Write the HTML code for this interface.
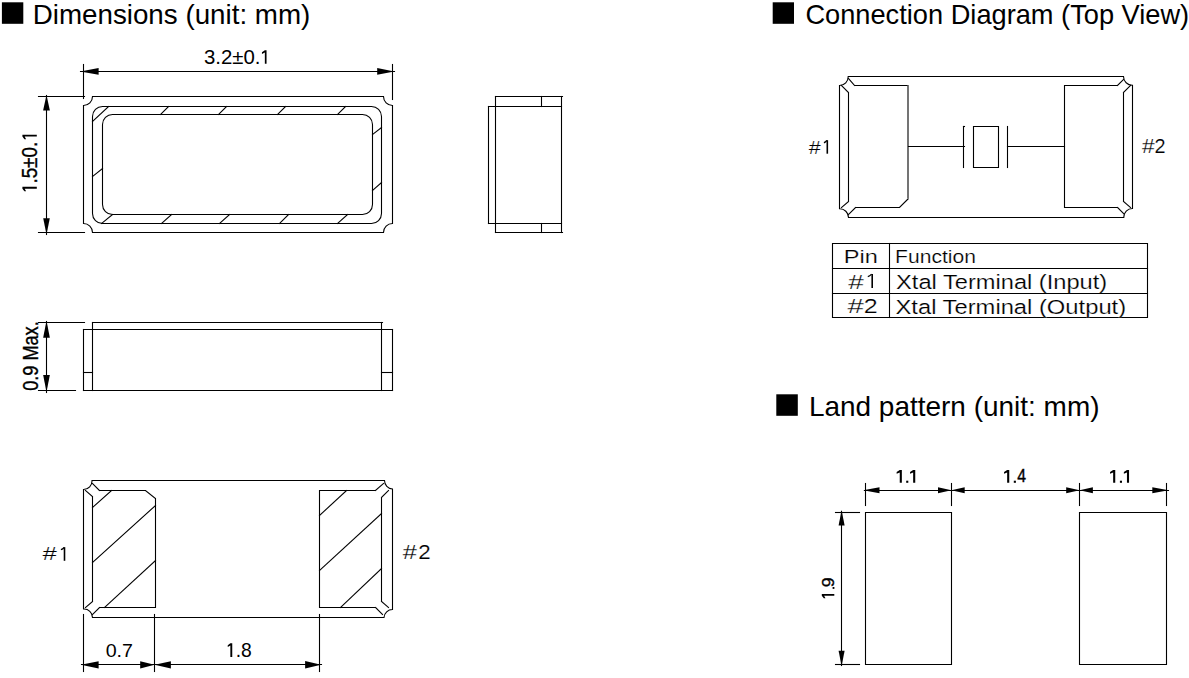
<!DOCTYPE html>
<html><head><meta charset="utf-8"><style>
html,body{margin:0;padding:0;background:#fff;}
body{width:1189px;height:678px;overflow:hidden;}
svg{display:block;}
text{font-family:"Liberation Sans",sans-serif;fill:#000;}
</style></head><body>
<svg width="1189" height="678" viewBox="0 0 1189 678">
<rect x="1.9" y="2.3" width="21.4" height="21.5" fill="#000"/>
<rect x="772.7" y="2.3" width="21.3" height="21.5" fill="#000"/>
<rect x="776.3" y="394.3" width="21.5" height="21.5" fill="#000"/>
<path d="M92.5,96.5 L383.5,96.5 A9,9 0 0 0 392.5,105.5 L392.5,223.5 A9,9 0 0 0 383.5,232.5 L92.5,232.5 A9,9 0 0 0 83.5,223.5 L83.5,105.5 A9,9 0 0 0 92.5,96.5 Z" stroke="#000" stroke-width="1.1" fill="none"/>
<path d="M102.5,106.5 L371.5,106.5 A10,10 0 0 1 381.5,116.5 L381.5,213.5 A10,10 0 0 1 371.5,223.5 L102.5,223.5 A10,10 0 0 1 92.5,213.5 L92.5,116.5 A10,10 0 0 1 102.5,106.5 Z" stroke="#000" stroke-width="1.1" fill="none"/>
<path d="M112.5,114.5 L362.5,114.5 A10,10 0 0 1 372.5,124.5 L372.5,204.5 A10,10 0 0 1 362.5,214.5 L112.5,214.5 A10,10 0 0 1 102.5,204.5 L102.5,124.5 A10,10 0 0 1 112.5,114.5 Z" stroke="#000" stroke-width="1.1" fill="none"/>
<line x1="108.5" y1="106.5" x2="92.5" y2="121.5" stroke="#000" stroke-width="1.1" stroke-linecap="square"/>
<line x1="168.5" y1="106.5" x2="160.5" y2="114.5" stroke="#000" stroke-width="1.1" stroke-linecap="square"/>
<line x1="226.5" y1="106.5" x2="218.5" y2="114.5" stroke="#000" stroke-width="1.1" stroke-linecap="square"/>
<line x1="285.5" y1="106.5" x2="277.5" y2="114.5" stroke="#000" stroke-width="1.1" stroke-linecap="square"/>
<line x1="345.5" y1="106.5" x2="337.5" y2="114.5" stroke="#000" stroke-width="1.1" stroke-linecap="square"/>
<line x1="381.5" y1="127.5" x2="372.5" y2="134.5" stroke="#000" stroke-width="1.1" stroke-linecap="square"/>
<line x1="381.5" y1="182.5" x2="372.5" y2="190.5" stroke="#000" stroke-width="1.1" stroke-linecap="square"/>
<line x1="102.5" y1="168.5" x2="92.5" y2="176.5" stroke="#000" stroke-width="1.1" stroke-linecap="square"/>
<line x1="112.5" y1="214.5" x2="101.5" y2="223.5" stroke="#000" stroke-width="1.1" stroke-linecap="square"/>
<line x1="171.5" y1="214.5" x2="161.5" y2="223.5" stroke="#000" stroke-width="1.1" stroke-linecap="square"/>
<line x1="229.5" y1="214.5" x2="219.5" y2="223.5" stroke="#000" stroke-width="1.1" stroke-linecap="square"/>
<line x1="288.5" y1="214.5" x2="279.5" y2="223.5" stroke="#000" stroke-width="1.1" stroke-linecap="square"/>
<line x1="347.5" y1="214.5" x2="337.5" y2="223.5" stroke="#000" stroke-width="1.1" stroke-linecap="square"/>
<line x1="83.5" y1="64.5" x2="83.5" y2="98.5" stroke="#000" stroke-width="1.1" stroke-linecap="square"/>
<line x1="392.5" y1="64.5" x2="392.5" y2="99.5" stroke="#000" stroke-width="1.1" stroke-linecap="square"/>
<line x1="80.5" y1="71.5" x2="394.5" y2="71.5" stroke="#000" stroke-width="1.1" stroke-linecap="square"/>
<polygon points="80.3,71.4 98.60,68.10 98.60,74.70" fill="#000"/>
<polygon points="394.3,71.4 377.20,74.70 377.20,68.10" fill="#000"/>
<line x1="38.5" y1="96.5" x2="84.5" y2="96.5" stroke="#000" stroke-width="1.1" stroke-linecap="square"/>
<line x1="38.5" y1="232.5" x2="84.5" y2="232.5" stroke="#000" stroke-width="1.1" stroke-linecap="square"/>
<line x1="46.5" y1="95.5" x2="46.5" y2="234.5" stroke="#000" stroke-width="1.1" stroke-linecap="square"/>
<polygon points="46.5,95.1 49.90,110.60 43.10,110.60" fill="#000"/>
<polygon points="46.5,234.6 43.20,218.30 49.80,218.30" fill="#000"/>
<line x1="495.5" y1="96.5" x2="562.5" y2="96.5" stroke="#000" stroke-width="1.1" stroke-linecap="square"/>
<line x1="488.5" y1="106.5" x2="561.5" y2="106.5" stroke="#000" stroke-width="1.1" stroke-linecap="square"/>
<line x1="488.5" y1="223.5" x2="561.5" y2="223.5" stroke="#000" stroke-width="1.1" stroke-linecap="square"/>
<line x1="495.5" y1="232.5" x2="562.5" y2="232.5" stroke="#000" stroke-width="1.1" stroke-linecap="square"/>
<line x1="495.5" y1="96.5" x2="495.5" y2="232.5" stroke="#000" stroke-width="1.1" stroke-linecap="square"/>
<line x1="561.5" y1="96.5" x2="561.5" y2="232.5" stroke="#000" stroke-width="1.1" stroke-linecap="square"/>
<line x1="488.5" y1="106.5" x2="488.5" y2="223.5" stroke="#000" stroke-width="1.1" stroke-linecap="square"/>
<line x1="541.5" y1="96.5" x2="541.5" y2="106.5" stroke="#000" stroke-width="1.1" stroke-linecap="square"/>
<line x1="541.5" y1="223.5" x2="541.5" y2="232.5" stroke="#000" stroke-width="1.1" stroke-linecap="square"/>
<line x1="92.5" y1="322.5" x2="382.5" y2="322.5" stroke="#000" stroke-width="1.1" stroke-linecap="square"/>
<line x1="83.5" y1="329.5" x2="392.5" y2="329.5" stroke="#000" stroke-width="1.1" stroke-linecap="square"/>
<line x1="83.5" y1="390.5" x2="392.5" y2="390.5" stroke="#000" stroke-width="1.1" stroke-linecap="square"/>
<line x1="92.5" y1="322.5" x2="92.5" y2="390.5" stroke="#000" stroke-width="1.1" stroke-linecap="square"/>
<line x1="83.5" y1="329.5" x2="83.5" y2="390.5" stroke="#000" stroke-width="1.1" stroke-linecap="square"/>
<line x1="381.5" y1="322.5" x2="381.5" y2="390.5" stroke="#000" stroke-width="1.1" stroke-linecap="square"/>
<line x1="392.5" y1="329.5" x2="392.5" y2="390.5" stroke="#000" stroke-width="1.1" stroke-linecap="square"/>
<line x1="83.5" y1="372.5" x2="92.5" y2="372.5" stroke="#000" stroke-width="1.1" stroke-linecap="square"/>
<line x1="381.5" y1="372.5" x2="392.5" y2="372.5" stroke="#000" stroke-width="1.1" stroke-linecap="square"/>
<line x1="38.5" y1="322.5" x2="84.5" y2="322.5" stroke="#000" stroke-width="1.1" stroke-linecap="square"/>
<line x1="38.5" y1="390.5" x2="75.5" y2="390.5" stroke="#000" stroke-width="1.1" stroke-linecap="square"/>
<line x1="46.5" y1="321.5" x2="46.5" y2="392.5" stroke="#000" stroke-width="1.1" stroke-linecap="square"/>
<polygon points="46.5,320.8 49.85,337.80 43.15,337.80" fill="#000"/>
<polygon points="46.5,392 43.15,375.00 49.85,375.00" fill="#000"/>
<path d="M92.5,480.5 L384.5,480.5 A8.5,8.5 0 0 0 392.5,489.0 L392.5,609.5 A8.5,8.5 0 0 0 384.0,617.5 L92.5,617.5 A8.5,8.5 0 0 0 83.5,609.0 L83.5,489.5 A8.5,8.5 0 0 0 92.0,480.5 Z" stroke="#000" stroke-width="1.1" fill="none"/>
<path d="M99.5,490.5 L145.5,490.5 L155.5,498.5 L155.5,607.5 L99.5,607.5" stroke="#000" stroke-width="1.1" fill="none"/>
<path d="M92.5,496.5 L92.5,601.5" stroke="#000" stroke-width="1.1" fill="none"/>
<line x1="99.5" y1="490.5" x2="92.5" y2="483.5" stroke="#000" stroke-width="1.1" stroke-linecap="square"/>
<line x1="92.5" y1="496.5" x2="85.5" y2="490.5" stroke="#000" stroke-width="1.1" stroke-linecap="square"/>
<line x1="92.5" y1="601.5" x2="85.5" y2="607.5" stroke="#000" stroke-width="1.1" stroke-linecap="square"/>
<line x1="99.5" y1="607.5" x2="92.5" y2="614.5" stroke="#000" stroke-width="1.1" stroke-linecap="square"/>
<path d="M375.5,490.5 L319.5,490.5 L319.5,607.5 L375.5,607.5" stroke="#000" stroke-width="1.1" fill="none"/>
<path d="M381.5,497.5 L381.5,601.5" stroke="#000" stroke-width="1.1" fill="none"/>
<line x1="375.5" y1="490.5" x2="383.5" y2="483.5" stroke="#000" stroke-width="1.1" stroke-linecap="square"/>
<line x1="381.5" y1="497.5" x2="388.5" y2="490.5" stroke="#000" stroke-width="1.1" stroke-linecap="square"/>
<line x1="381.5" y1="601.5" x2="388.5" y2="607.5" stroke="#000" stroke-width="1.1" stroke-linecap="square"/>
<line x1="375.5" y1="607.5" x2="382.5" y2="614.5" stroke="#000" stroke-width="1.1" stroke-linecap="square"/>
<line x1="111.5" y1="490.5" x2="92.5" y2="507.5" stroke="#000" stroke-width="1.1" stroke-linecap="square"/>
<line x1="155.5" y1="505.5" x2="92.5" y2="562.5" stroke="#000" stroke-width="1.1" stroke-linecap="square"/>
<line x1="155.5" y1="560.5" x2="104.5" y2="607.5" stroke="#000" stroke-width="1.1" stroke-linecap="square"/>
<line x1="346.5" y1="490.5" x2="319.5" y2="515.5" stroke="#000" stroke-width="1.1" stroke-linecap="square"/>
<line x1="381.5" y1="513.5" x2="319.5" y2="570.5" stroke="#000" stroke-width="1.1" stroke-linecap="square"/>
<line x1="381.5" y1="568.5" x2="340.5" y2="607.5" stroke="#000" stroke-width="1.1" stroke-linecap="square"/>
<line x1="83.5" y1="614.5" x2="83.5" y2="671.5" stroke="#000" stroke-width="1.1" stroke-linecap="square"/>
<line x1="154.5" y1="614.5" x2="154.5" y2="671.5" stroke="#000" stroke-width="1.1" stroke-linecap="square"/>
<line x1="319.5" y1="614.5" x2="319.5" y2="671.5" stroke="#000" stroke-width="1.1" stroke-linecap="square"/>
<line x1="81.5" y1="664.5" x2="321.5" y2="664.5" stroke="#000" stroke-width="1.1" stroke-linecap="square"/>
<polygon points="80.9,664.8 98.60,661.20 98.60,668.40" fill="#000"/>
<polygon points="154.6,664.8 140.20,668.40 140.20,661.20" fill="#000"/>
<polygon points="154.6,664.8 170.90,661.20 170.90,668.40" fill="#000"/>
<polygon points="321.1,664.8 305.10,668.50 305.10,661.10" fill="#000"/>
<path d="M848.5,76.5 L1123.5,76.5 A8.7,8.7 0 0 0 1132.5,85.2 L1132.5,208.5 A8.7,8.7 0 0 0 1123.8,217.5 L848.5,217.5 A8.7,8.7 0 0 0 839.5,208.8 L839.5,85.5 A8.7,8.7 0 0 0 848.2,76.5 Z" stroke="#000" stroke-width="1.1" fill="none"/>
<path d="M854.5,85.5 L908.5,85.5" stroke="#000" stroke-width="1.1" fill="none"/>
<path d="M908.5,198.5 L899.5,207.5 L855.5,207.5" stroke="#000" stroke-width="1.1" fill="none"/>
<line x1="908" y1="85.5" x2="908" y2="198.5" stroke="#747474" stroke-width="2"/>
<path d="M848.5,92.5 L848.5,201.5" stroke="#000" stroke-width="1.1" fill="none"/>
<line x1="854.5" y1="85.5" x2="848.5" y2="78.5" stroke="#000" stroke-width="1.1" stroke-linecap="square"/>
<line x1="848.5" y1="92.5" x2="841.5" y2="85.5" stroke="#000" stroke-width="1.1" stroke-linecap="square"/>
<line x1="848.5" y1="201.5" x2="841.5" y2="207.5" stroke="#000" stroke-width="1.1" stroke-linecap="square"/>
<line x1="855.5" y1="207.5" x2="848.5" y2="214.5" stroke="#000" stroke-width="1.1" stroke-linecap="square"/>
<path d="M1117.5,85.5 L1064.5,85.5 L1064.5,207.5 L1117.5,207.5" stroke="#000" stroke-width="1.1" fill="none"/>
<path d="M1123.5,92.5 L1123.5,201.5" stroke="#000" stroke-width="1.1" fill="none"/>
<line x1="1117.5" y1="85.5" x2="1123.5" y2="79.5" stroke="#000" stroke-width="1.1" stroke-linecap="square"/>
<line x1="1123.5" y1="92.5" x2="1130.5" y2="85.5" stroke="#000" stroke-width="1.1" stroke-linecap="square"/>
<line x1="1123.5" y1="201.5" x2="1130.5" y2="207.5" stroke="#000" stroke-width="1.1" stroke-linecap="square"/>
<line x1="1117.5" y1="207.5" x2="1123.5" y2="213.5" stroke="#000" stroke-width="1.1" stroke-linecap="square"/>
<line x1="908.5" y1="146.5" x2="964.5" y2="146.5" stroke="#000" stroke-width="1.1" stroke-linecap="square"/>
<line x1="963.5" y1="126.5" x2="963.5" y2="167.5" stroke="#000" stroke-width="1.1" stroke-linecap="square"/>
<path d="M973.5,126.5 L998.5,126.5 L998.5,167.5 L973.5,167.5 Z" stroke="#000" stroke-width="1.1" fill="none"/>
<line x1="1007.5" y1="126.5" x2="1007.5" y2="167.5" stroke="#000" stroke-width="1.1" stroke-linecap="square"/>
<line x1="963.5" y1="126.5" x2="964.5" y2="126.5" stroke="#000" stroke-width="1.1" stroke-linecap="square"/>
<line x1="1007.5" y1="146.5" x2="1064.5" y2="146.5" stroke="#000" stroke-width="1.1" stroke-linecap="square"/>
<path d="M832.5,243.5 L1147.5,243.5 L1147.5,317.5 L832.5,317.5 Z" stroke="#000" stroke-width="1.1" fill="none"/>
<line x1="832.5" y1="268.5" x2="1147.5" y2="268.5" stroke="#000" stroke-width="1.1" stroke-linecap="square"/>
<line x1="832.5" y1="293.5" x2="1147.5" y2="293.5" stroke="#000" stroke-width="1.1" stroke-linecap="square"/>
<line x1="889.5" y1="243.5" x2="889.5" y2="317.5" stroke="#000" stroke-width="1.1" stroke-linecap="square"/>
<path d="M865.5,512.5 L951.5,512.5 L951.5,664.5 L865.5,664.5 Z" stroke="#000" stroke-width="1.1" fill="none"/>
<path d="M1079.5,512.5 L1166.5,512.5 L1166.5,664.5 L1079.5,664.5 Z" stroke="#000" stroke-width="1.1" fill="none"/>
<line x1="865.5" y1="483.5" x2="865.5" y2="505.5" stroke="#000" stroke-width="1.1" stroke-linecap="square"/>
<line x1="951.5" y1="483.5" x2="951.5" y2="505.5" stroke="#000" stroke-width="1.1" stroke-linecap="square"/>
<line x1="1079.5" y1="483.5" x2="1079.5" y2="505.5" stroke="#000" stroke-width="1.1" stroke-linecap="square"/>
<line x1="1166.5" y1="483.5" x2="1166.5" y2="505.5" stroke="#000" stroke-width="1.1" stroke-linecap="square"/>
<line x1="864.5" y1="490.5" x2="1168.5" y2="490.5" stroke="#000" stroke-width="1.1" stroke-linecap="square"/>
<polygon points="863.2,490.3 879.50,487.30 879.50,493.30" fill="#000"/>
<polygon points="951.4,490.3 938.00,493.30 938.00,487.30" fill="#000"/>
<polygon points="951.4,490.3 964.70,487.30 964.70,493.30" fill="#000"/>
<polygon points="1079.6,490.3 1066.20,493.30 1066.20,487.30" fill="#000"/>
<polygon points="1079.6,490.3 1092.90,487.30 1092.90,493.30" fill="#000"/>
<polygon points="1168.6,490.3 1152.30,493.30 1152.30,487.30" fill="#000"/>
<line x1="835.5" y1="512.5" x2="859.5" y2="512.5" stroke="#000" stroke-width="1.1" stroke-linecap="square"/>
<line x1="835.5" y1="664.5" x2="859.5" y2="664.5" stroke="#000" stroke-width="1.1" stroke-linecap="square"/>
<line x1="841.5" y1="511.5" x2="841.5" y2="665.5" stroke="#000" stroke-width="1.1" stroke-linecap="square"/>
<polygon points="841.6,510.1 844.60,525.40 838.60,525.40" fill="#000"/>
<polygon points="841.6,666.3 838.60,650.80 844.60,650.80" fill="#000"/>
<path d="M64.5,547.2 L64.5,560.8" stroke="#000" stroke-width="1.6" fill="none"/>
<path d="M60.9,549.6 Q62.9,549.3 64.2,547.4" stroke="#000" stroke-width="1.4" fill="none"/>
<path d="M827.3,140.2 L827.3,153.7" stroke="#000" stroke-width="1.6" fill="none"/>
<path d="M823.9,142.7 Q825.6,142.4 826.9,140.4" stroke="#000" stroke-width="1.4" fill="none"/>
<path d="M872.2,273.9 L872.2,288.1" stroke="#000" stroke-width="1.6" fill="none"/>
<path d="M867.8,276.6 Q869.8,276.2 871.6,274.1" stroke="#000" stroke-width="1.2" fill="none"/>
<path transform="translate(900.8,470.1)" d="M-1.05,0 L1.05,0 L1.05,12.699999999999989 L-1.05,12.699999999999989 L-1.05,2.3 L-4.15,3.7 L-4.15,2.0 Z" fill="#000"/>
<path transform="translate(914.2,470.1)" d="M-1.05,0 L1.05,0 L1.05,12.699999999999989 L-1.05,12.699999999999989 L-1.05,2.3 L-4.15,3.7 L-4.15,2.0 Z" fill="#000"/>
<path transform="translate(1114.2,470.1)" d="M-1.05,0 L1.05,0 L1.05,12.699999999999989 L-1.05,12.699999999999989 L-1.05,2.3 L-4.15,3.7 L-4.15,2.0 Z" fill="#000"/>
<path transform="translate(1128.0,470.1)" d="M-1.05,0 L1.05,0 L1.05,12.699999999999989 L-1.05,12.699999999999989 L-1.05,2.3 L-4.15,3.7 L-4.15,2.0 Z" fill="#000"/>
<path transform="translate(1008.2,470.1)" d="M-1.05,0 L1.05,0 L1.05,12.699999999999989 L-1.05,12.699999999999989 L-1.05,2.3 L-4.15,3.7 L-4.15,2.0 Z" fill="#000"/>
<rect x="906.2" y="480.7" width="2.1" height="2.1" fill="#000"/>
<rect x="1119.9" y="480.7" width="2.1" height="2.1" fill="#000"/>
<rect x="1013.8" y="480.7" width="2.1" height="2.1" fill="#000"/>
<path transform="translate(821.8,594.9) rotate(-90)" d="M-0.85,0 L0.85,0 L0.85,12.5 L-0.85,12.5 L-0.85,2.3 L-3.45,3.7 L-3.45,2.0 Z" fill="#000"/>
<rect x="832.6" y="587.0" width="1.8" height="1.9" fill="#000"/>
<path transform="translate(265.7,50.2)" d="M-0.85,0 L0.85,0 L0.85,13.5 L-0.85,13.5 L-0.85,2.3 L-3.75,3.7 L-3.75,2.0 Z" fill="#000"/>
<path transform="translate(231.3,643.2)" d="M-0.95,0 L0.95,0 L0.95,13.699999999999932 L-0.95,13.699999999999932 L-0.95,2.3 L-3.55,3.7 L-3.55,2.0 Z" fill="#000"/>
<path transform="translate(22.4,135.6) rotate(-90)" d="M-0.95,0 L0.95,0 L0.95,14.4 L-0.95,14.4 L-0.95,2.3 L-3.55,3.7 L-3.55,2.0 Z" fill="#000"/>
<path transform="translate(22.4,187.8) rotate(-90)" d="M-0.95,0 L0.95,0 L0.95,14.4 L-0.95,14.4 L-0.95,2.3 L-3.55,3.7 L-3.55,2.0 Z" fill="#000"/>
<g transform="matrix(1.00220 0 0 1.00000 -0.879 0.000)"><text x="33.5" y="23.8" font-size="27.6" text-anchor="start" textLength="277" lengthAdjust="spacingAndGlyphs">Dimensions (unit: mm)</text></g>
<g transform="matrix(0.99686 0 0 1.00000 2.930 0.000)"><text x="805" y="23.7" font-size="27.6" text-anchor="start" textLength="385" lengthAdjust="spacingAndGlyphs">Connection Diagram (Top View)</text></g>
<g transform="matrix(0.99861 0 0 1.00000 0.731 0.000)"><text x="809.3" y="415.8" font-size="27.6" text-anchor="start" textLength="291" lengthAdjust="spacingAndGlyphs">Land pattern (unit: mm)</text></g>
<g transform="matrix(1.05696 0 0 1.05401 -12.734 -3.457)"><text x="205" y="64" font-size="19.3" text-anchor="start">3.2±0.</text></g>
<g transform="matrix(1.11101 0 0 0.97500 -3.486 4.275)"><text x="36.5" y="162.5" font-size="19.3" text-anchor="middle" transform="rotate(-90 36.5 162.5)" stroke="#000" stroke-width="0.3">.5±0.</text></g>
<g transform="matrix(1.10265 0 0 0.94094 -3.373 20.314)"><text x="37.8" y="356.8" font-size="19.3" text-anchor="middle" transform="rotate(-90 37.8 356.8)" stroke="#000" stroke-width="0.3">0.9 Max.</text></g>
<g transform="matrix(1.36093 0 0 1.00917 -16.043 -5.729)"><text x="43" y="561" font-size="19" text-anchor="start" stroke="#fff" stroke-width="0.15">#</text></g>
<g transform="matrix(1.33023 0 0 1.05401 -134.018 -30.192)"><text x="403.5" y="559" font-size="19" text-anchor="start" stroke="#fff" stroke-width="0.15">#</text></g>
<g transform="matrix(1.17610 0 0 1.05401 -73.419 -30.192)"><text x="418" y="559" font-size="19" text-anchor="start" stroke="#fff" stroke-width="0.15">2</text></g>
<g transform="matrix(1.01850 0 0 0.95017 -1.891 32.295)"><text x="119" y="657.5" font-size="19.3" text-anchor="middle">0.7</text></g>
<g transform="matrix(1.00000 0 0 1.00917 -1.300 -6.300)"><text x="237" y="657.5" font-size="19.3" text-anchor="start">.8</text></g>
<g transform="matrix(1.13562 0 0 1.00917 -109.356 -1.020)"><text x="808.5" y="153.8" font-size="19" text-anchor="start" stroke="#fff" stroke-width="0.15">#</text></g>
<g transform="matrix(1.19286 0 0 1.07692 -220.250 -11.769)"><text x="1142" y="153" font-size="19" text-anchor="start" stroke="#fff" stroke-width="0.15">#</text></g>
<g transform="matrix(1.04524 0 0 1.07692 -54.714 -11.769)"><text x="1157" y="153" font-size="19" text-anchor="start" stroke="#fff" stroke-width="0.15">2</text></g>
<g transform="matrix(1.17839 0 0 0.95705 -152.510 11.178)"><text x="845.5" y="263.6" font-size="20" text-anchor="start" stroke="#fff" stroke-width="0.2">Pin</text></g>
<g transform="matrix(1.18482 0 0 1.03410 -167.073 -9.199)"><text x="896.5" y="263.6" font-size="17.8" text-anchor="start" stroke="#fff" stroke-width="0.2">Function</text></g>
<g transform="matrix(1.43021 0 0 1.06567 -364.617 -18.607)"><text x="848" y="288.2" font-size="19.5" text-anchor="start" stroke="#fff" stroke-width="0.2">#</text></g>
<g transform="matrix(1.00532 0 0 1.00000 -5.178 0.000)"><text x="896.5" y="288.6" font-size="21" text-anchor="start" textLength="210" lengthAdjust="spacingAndGlyphs" stroke="#fff" stroke-width="0.2">Xtal Terminal (Input)</text></g>
<g transform="matrix(1.49959 0 0 1.04347 -423.496 -13.491)"><text x="847.5" y="312.7" font-size="19.5" text-anchor="start" stroke="#fff" stroke-width="0.2">#</text></g>
<g transform="matrix(1.28625 0 0 1.04347 -250.125 -13.491)"><text x="866" y="312.7" font-size="19.5" text-anchor="start" stroke="#fff" stroke-width="0.2">2</text></g>
<g transform="matrix(1.01156 0 0 1.00000 -11.379 0.000)"><text x="896.5" y="313.7" font-size="21" text-anchor="start" textLength="228" lengthAdjust="spacingAndGlyphs" stroke="#fff" stroke-width="0.2">Xtal Terminal (Output)</text></g>
<g transform="matrix(0.90000 0 0 1.01005 102.000 -5.457)"><text x="1017" y="483" font-size="17.5" text-anchor="start" stroke="#000" stroke-width="0.4">4</text></g>
<g transform="matrix(0.96308 0 0 1.01615 30.349 -9.266)"><text x="834.5" y="587" font-size="17.5" text-anchor="start" transform="rotate(-90 834.5 587)" stroke="#000" stroke-width="0.35">9</text></g>
</svg>
</body></html>
